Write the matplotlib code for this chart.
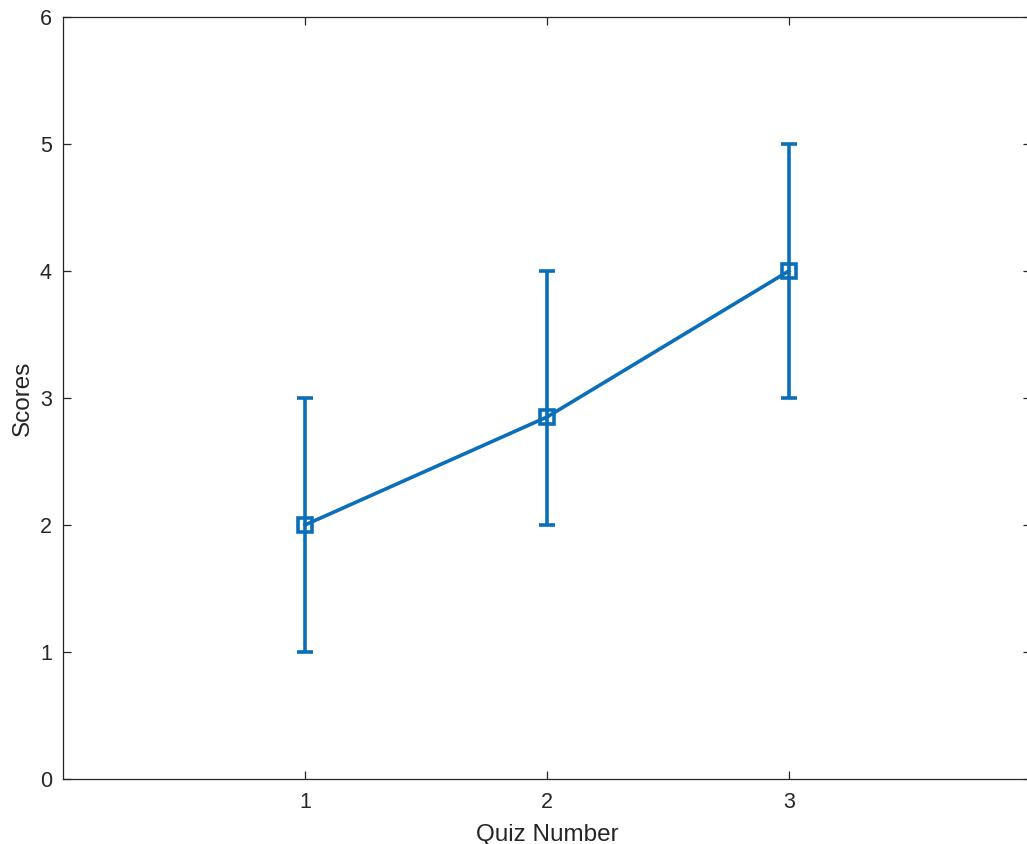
import matplotlib
matplotlib.use('Agg')
import matplotlib.pyplot as plt
import numpy as np

# Quiz data
quiz_numbers = [1, 2, 3]
mean_scores = [2.0, 2.85, 4.0]
lower_err = [1.0, 0.85, 1.0]
upper_err = [1.0, 1.15, 1.0]
y_ticks = [0, 1, 2, 3, 4, 5, 6]
x_ticks = [1, 2, 3]

plt.rcParams['font.family'] = ['Liberation Sans', 'DejaVu Sans']

fig = plt.figure(figsize=(10.27, 8.44), dpi=100)
ax = fig.add_axes([0.0613, 0.077, 0.9426, 0.903])

ax.errorbar(quiz_numbers, mean_scores, yerr=[lower_err, upper_err],
            color='#0A6FB8', linewidth=2.6, elinewidth=2.6, capsize=5.5, capthick=2.6,
            marker='s', markersize=9.5, markerfacecolor='none', markeredgewidth=2.6)

ax.set_xlim(0, 4)
ax.set_ylim(0, 6)
ax.set_xticks(x_ticks)
ax.set_yticks(y_ticks)
ax.tick_params(direction='in', top=True, right=True, length=6, width=0.9,
               labelsize=15.5, color='#262626', labelcolor='#262626')
ax.tick_params(axis='x', pad=9)
ax.tick_params(axis='y', pad=8)
for s in ax.spines.values():
    s.set_color('#262626')
    s.set_linewidth(0.9)

ax.set_xlabel('Quiz Number', fontsize=17.5, color='#262626', labelpad=8)
ax.set_ylabel('Scores', fontsize=17.5, color='#262626', labelpad=4)

fig.savefig('out.png', dpi=100)
